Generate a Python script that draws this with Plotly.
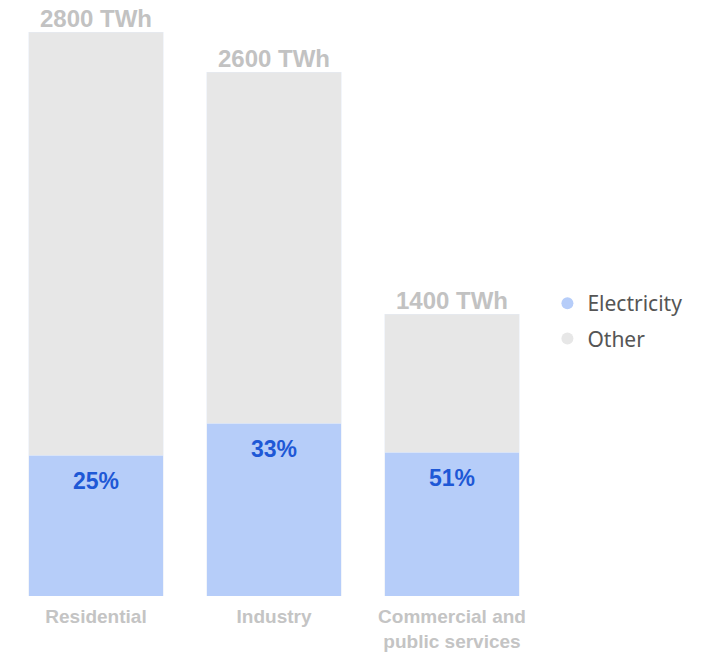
import plotly.graph_objects as go

categories = ["Residential", "Industry", "Commercial and<br>public services"]
totals_twh = [2800, 2600, 1400]
electricity_share = [25, 33, 51]
total_labels = ["2800 TWh", "2600 TWh", "1400 TWh"]
share_labels = ["25%", "33%", "51%"]

elec_vals = [t * s / 100 for t, s in zip(totals_twh, electricity_share)]
other_vals = [t - e for t, e in zip(totals_twh, elec_vals)]

ELEC_COLOR = "#b6cdf9"
OTHER_COLOR = "#e7e7e7"

fig = go.Figure()
fig.add_trace(go.Bar(x=categories, y=elec_vals, marker_color=ELEC_COLOR,
                     showlegend=False, hoverinfo="skip"))
fig.add_trace(go.Bar(x=categories, y=other_vals, marker_color=OTHER_COLOR,
                     showlegend=False, hoverinfo="skip"))
# legend entries with circular markers
fig.add_trace(go.Scatter(x=[None], y=[None], mode="markers", name="Electricity",
                         legendgroup="e",
                         marker=dict(symbol="circle", size=10, color=ELEC_COLOR)))
fig.add_trace(go.Scatter(x=[None], y=[None], mode="markers", name="Other",
                         legendgroup="o",
                         marker=dict(symbol="circle", size=10, color=OTHER_COLOR)))

for c, t, lab in zip(categories, totals_twh, total_labels):
    fig.add_annotation(x=c, y=t, text="<b>" + lab + "</b>", showarrow=False,
                       yanchor="bottom", yshift=-2,
                       font=dict(family="Liberation Sans", size=24, color="#c2c2c2"))
for c, e, lab in zip(categories, elec_vals, share_labels):
    fig.add_annotation(x=c, y=e, text="<b>" + lab + "</b>", showarrow=False,
                       yanchor="middle", yshift=-26,
                       font=dict(family="Liberation Sans", size=23, color="#1e58d6"))

fig.update_layout(
    width=705, height=652,
    margin=dict(l=7, r=164, t=0, b=56),
    barmode="stack",
    bargap=0.242,
    plot_bgcolor="white", paper_bgcolor="white",
    xaxis=dict(showgrid=False, zeroline=False, showline=False, ticks="",
               tickfont=dict(family="Liberation Sans", size=19, color="#c4c4c4",
                             weight="bold"),
               ticklabelstandoff=7,
               range=[-0.5, 2.5], fixedrange=True),
    yaxis=dict(range=[0, 2959], visible=False, fixedrange=True),
    legend=dict(x=1.012, y=0.525, xanchor="left", yanchor="top",
                font=dict(family="Noto Sans", size=21, color="#555555"),
                itemsizing="constant", traceorder="grouped",
                tracegroupgap=5, bgcolor="rgba(0,0,0,0)"),
    showlegend=True,
)

fig.write_html("out.html")
